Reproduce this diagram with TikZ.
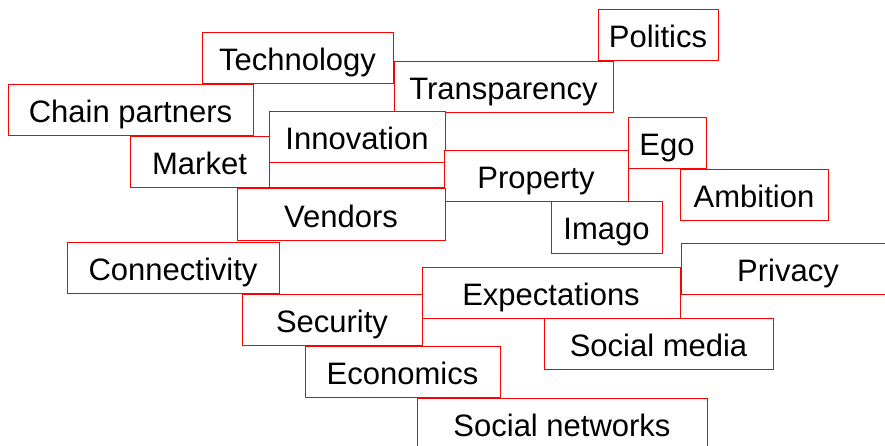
\documentclass[tikz,border=0pt]{standalone}
\usepackage{fontspec}
\setmainfont{Liberation Sans}
\usepackage{tikz}

\begin{document}
\begin{tikzpicture}[x=1pt, y=-1pt,
    word/.style={draw=red, line width=1pt, fill=white, rectangle, inner sep=0pt,
      minimum height=51pt, text height=25pt, text depth=0pt,
      font=\fontsize{31}{37}\selectfont}]
    \useasboundingbox (0,0) rectangle (885,446);
    \node[word, minimum width=120pt] (politics) at (658,35.5) {Politics};
    \node[word, minimum width=191pt] (technology) at (297.5,58.5) {Technology};
    \node[word, minimum width=219pt] (transparency) at (503.5,87.5) {Transparency};
    \node[word, minimum width=245pt] (chain) at (130.5,110.5) {Chain partners};
    \node[word, minimum width=176pt] (blank) at (357,162.5) {};
    \node[word, minimum width=176pt] (innovation) at (357,137.5) {Innovation};
    \node[word, minimum width=139pt] (market) at (199.5,162.5) {Market};
    \node[word, minimum width=78pt] (ego) at (667,143.5) {Ego};
    \node[word, minimum width=184pt] (property) at (536,176.5) {Property};
    \node[word, minimum width=148pt] (ambition) at (754,195.5) {Ambition};
    \node[word, minimum width=208pt] (vendors) at (341,214.5) {Vendors};
    \node[word, minimum width=111pt] (imago) at (606.5,227.5) {Imago};
    \node[word, minimum width=212pt] (connectivity) at (173,267.5) {Connectivity};
    \node[word, minimum width=214pt] (privacy) at (788,268.5) {Privacy};
    \node[word, minimum width=258pt] (expectations) at (551,292.5) {Expectations};
    \node[word, minimum width=180pt] (security) at (332,319.5) {Security};
    \node[word, minimum width=229pt] (socialmedia) at (658.5,343.5) {Social media};
    \node[word, minimum width=195pt] (economics) at (402.5,371.5) {Economics};
    \node[word, minimum width=290pt] (networks) at (562,423.5) {Social networks};
\end{tikzpicture}
\end{document}
